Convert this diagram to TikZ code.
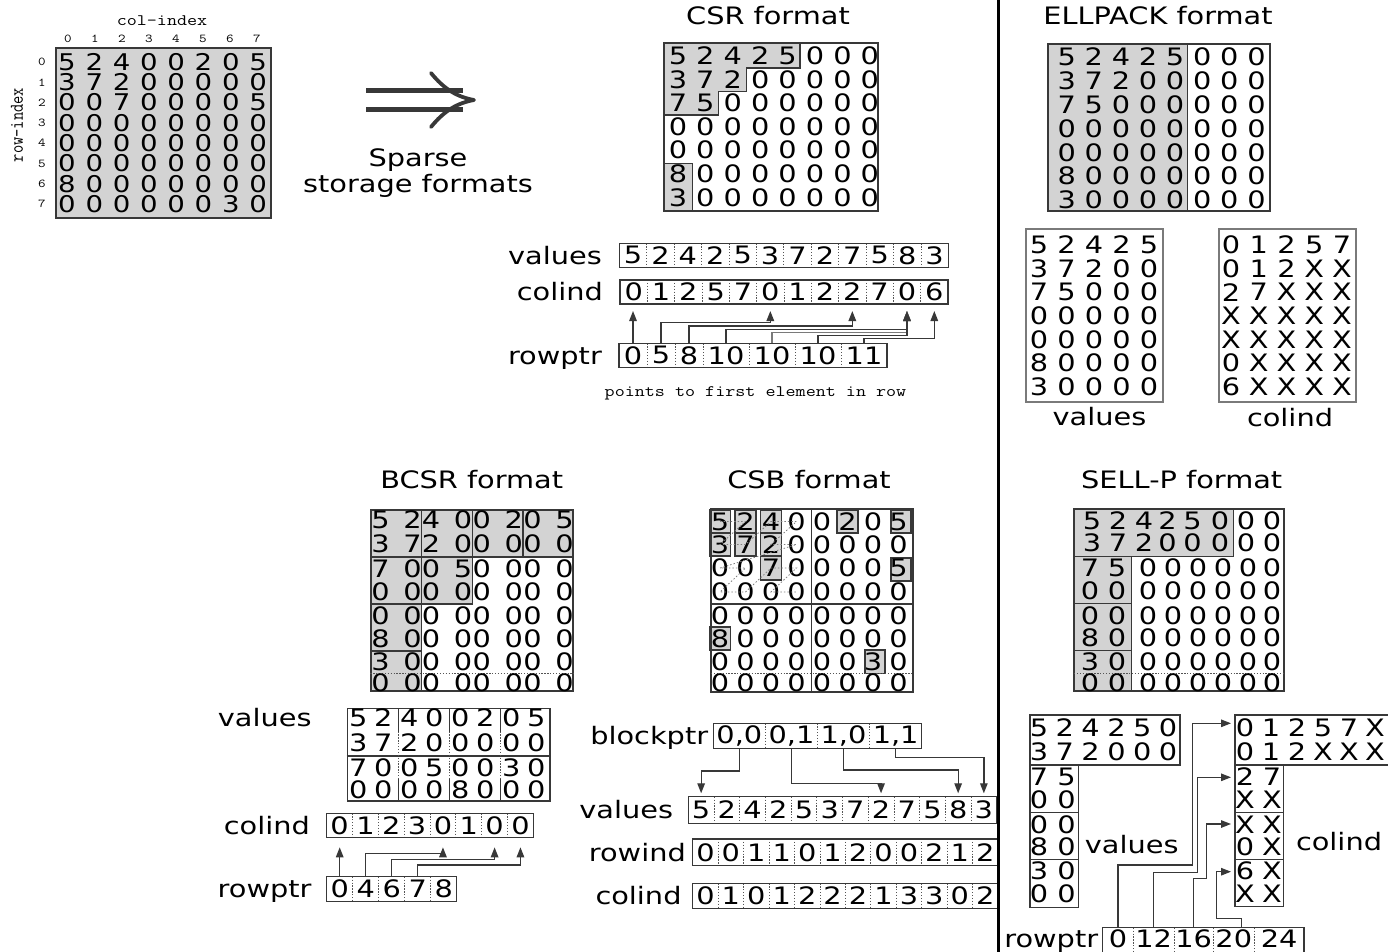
\documentclass[tikz,border=0pt]{standalone}
\usepackage{fontspec}
\usepackage{graphicx}
\usetikzlibrary{arrows.meta}
\newfontfamily\dv[FakeStretch=1.2]{DejaVu Sans}
\newcommand\dfont{\fontsize{24}{24}\dv}
\newcommand\sfont{\fontsize{23}{23}\dv}
\newcommand\mtt[2]{\scalebox{1.22}[1]{\ttfamily\fontsize{#1}{#1}\selectfont #2}}
\definecolor{gfill}{HTML}{D3D3D3}
\definecolor{lnc}{HTML}{383838}
\definecolor{dotc}{HTML}{555555}
\definecolor{lgc}{HTML}{7A7A7A}
\tikzset{
  dig/.style={font=\dfont, inner sep=0pt, outer sep=0pt},
  sdig/.style={font=\sfont, inner sep=0pt, outer sep=0pt},
  cell/.style={font=\dfont, inner sep=0pt, outer sep=0pt},
  lab/.style={font=\dfont, inner sep=0pt, anchor=base east},
  ttl/.style={font=\dfont, inner sep=0pt, anchor=base},
  bx/.style={draw=lnc, line width=1.4pt, inner sep=0pt},
  gbx/.style={draw=lnc, line width=1.4pt, fill=gfill},
  sepl/.style={draw=dotc, line width=0.8pt, dash pattern=on 1.3pt off 1.6pt},
  arr/.style={draw=lnc, line width=1.3pt, -{Triangle[length=10pt,width=7.5pt]}},
  morton/.style={draw=gray, line width=0.8pt, dash pattern=on 1.5pt off 2pt},
}
\begin{document}
\begin{tikzpicture}[x=1pt,y=-1pt]
\useasboundingbox (0,0) rectangle (1388,952);
\fill[white] (0,0) rectangle (1388,952);

% ================= original matrix
\node[gbx, minimum width=215pt, minimum height=170pt, inner sep=0pt] (A) at (163.5,133) {};
\foreach \row [count=\j from 0] in {{5,2,4,0,0,2,0,5},{3,7,2,0,0,0,0,0},{0,0,7,0,0,0,0,5},{0,0,0,0,0,0,0,0},{0,0,0,0,0,0,0,0},{0,0,0,0,0,0,0,0},{8,0,0,0,0,0,0,0},{0,0,0,0,0,0,3,0}}
  \foreach \v [count=\i from 0] in \row
    \node[sdig] (a-\j-\i) at ({67+27.3*\i},{62+20.3*\j}) {\v};
\foreach \i in {0,...,7}
  \node[inner sep=0pt] (ci-\i) at ({68+27*\i},38.5) {\mtt{12}{\i}};
\foreach \j in {0,...,7}
  \node[inner sep=0pt] (ri-\j) at (42,{62+20.3*\j}) {\mtt{12}{\j}};
\node[inner sep=0pt] (colidx) at (162,21) {\mtt{16}{col-index}};
\node[rotate=90, inner sep=0pt] (rowidx) at (17,125) {\scalebox{1}[1.22]{\ttfamily\fontsize{16}{16}\selectfont row-index}};

% ================= double arrow
\draw[lnc, line width=4.2pt] (366,90.5) -- (463,90.5) (366,109.5) -- (463,109.5);
\draw[lnc, line width=3.8pt, line cap=round, line join=round] (431,73) .. controls (444,89) and (457,97) .. (474,100) .. controls (457,103) and (444,111) .. (431,127);
\node[ttl] (sp1) at (418,166.5) {Sparse};
\node[ttl] (sp2) at (418,193) {storage formats};

% ================= CSR
\node[ttl] (csrT) at (768,25) {CSR format};
\path[gbx] (664,43) -- (800,43) -- (800,68) -- (746.7,68) -- (746.7,91.7) -- (718.3,91.7) -- (718.3,115) -- (664,115) -- cycle;
\path[gbx] (664,163.3) rectangle (692.7,211);
\node[bx, minimum width=214pt, minimum height=168pt] (B) at (771,127) {};
\foreach \row [count=\j from 0] in {{5,2,4,2,5,0,0,0},{3,7,2,0,0,0,0,0},{7,5,0,0,0,0,0,0},{0,0,0,0,0,0,0,0},{0,0,0,0,0,0,0,0},{8,0,0,0,0,0,0,0},{3,0,0,0,0,0,0,0}}
  \foreach \v [count=\i from 0] in \row
    \node[dig] (b-\j-\i) at ({678+27.4*\i},{55.7+23.6*\j}) {\v};

% CSR arrays
\foreach \v [count=\i from 0] in {5,2,4,2,5,3,7,2,7,5,8,3}
  \node[cell, minimum width=27.42pt, minimum height=24pt] (cv-\i) at ({619.3+27.42*(\i+0.5)},255.3) {\v};
\foreach \i in {0,...,10} \draw[sepl] (cv-\i.north east) -- (cv-\i.south east);
\draw[bx] (cv-0.north west) rectangle (cv-11.south east);
\foreach \v [count=\i from 0] in {0,1,2,5,7,0,1,2,2,7,0,6}
  \node[cell, minimum width=27.33pt, minimum height=24pt] (cc-\i) at ({620+27.33*(\i+0.5)},292) {\v};
\foreach \i in {0,...,10} \draw[sepl] (cc-\i.north east) -- (cc-\i.south east);
\draw[bx] (cc-0.north west) rectangle (cc-11.south east);
\foreach \v/\a/\b [count=\i from 0] in {0/619/647,5/647/675,8/675/703,10/703/749,10/749/795,10/795/841,11/841/887}
{ \pgfmathsetmacro\cw{\b-\a} \pgfmathsetmacro\cx{(\a+\b)/2}
  \node[cell, minimum width=\cw, minimum height=24pt] (cr-\i) at (\cx,355.3) {\v}; }
\foreach \i in {0,...,5} \draw[sepl] (cr-\i.north east) -- (cr-\i.south east);
\draw[bx] (cr-0.north west) rectangle (cr-6.south east);
\node[lab] (lv1) at (602,264) {values};
\node[lab] (lc1) at (603,300.8) {colind};
\node[lab] (lr1) at (602,364) {rowptr};
\coordinate (h1) at (0,322.5);
\coordinate (h2) at (0,326);
\coordinate (h3) at (0,329.5);
\coordinate (h4) at (0,332.5);
\coordinate (h5) at (0,335.5);
\coordinate (h6) at (0,338.5);
\draw[arr, shorten >=7pt] (cr-0.north) -- (cr-0.north |- cc-0.south);
\draw[arr, shorten >=7pt] (cr-1.north) -- (cr-1.north |- h1) -| (cc-5.south);
\draw[arr, shorten >=7pt] (cr-2.north) -- (cr-2.north |- h2) -| (cc-8.south);
\draw[arr, shorten >=7pt] (cr-3.north) -- (cr-3.north |- h3) -| (cc-10.south);
\draw[arr, draw=lgc, shorten >=7pt] (cr-4.north) -- (cr-4.north |- h4) -| (cc-10.south);
\draw[arr, shorten >=7pt] (cr-5.north) -- (cr-5.north |- h5) -| (cc-10.south);
\draw[arr, shorten >=7pt] (cr-6.north) -- (cr-6.north |- h6) -| (cc-11.south);
\node[inner sep=0pt] (pts) at (755.5,393) {\mtt{16}{points to first element in row}};

% ================= ELLPACK
\node[ttl] (ellT) at (1158,24.5) {ELLPACK format};
\fill[gfill] (1048,44) rectangle (1187.3,211);
\node[bx, minimum width=222pt, minimum height=167pt] (E) at (1159,127.5) {};
\draw[lnc, line width=1.4pt] (E.north west -| 1187.3,0) -- (E.south west -| 1187.3,0);
\foreach \row [count=\j from 0] in {{5,2,4,2,5,0,0,0},{3,7,2,0,0,0,0,0},{7,5,0,0,0,0,0,0},{0,0,0,0,0,0,0,0},{0,0,0,0,0,0,0,0},{8,0,0,0,0,0,0,0},{3,0,0,0,0,0,0,0}}
  \foreach \v [count=\i from 0] in \row
    \node[dig] (e-\j-\i) at ({1066.7+27.1*\i},{56.7+23.9*\j}) {\v};
\node[draw=lgc, line width=1.3pt, inner sep=0pt, minimum width=137pt, minimum height=173pt] (EV) at (1094.5,315.5) {};
\foreach \row [count=\j from 0] in {{5,2,4,2,5},{3,7,2,0,0},{7,5,0,0,0},{0,0,0,0,0},{0,0,0,0,0},{8,0,0,0,0},{3,0,0,0,0}}
  \foreach \v [count=\i from 0] in \row
    \node[dig] (ev-\j-\i) at ({1039+27.5*\i},{245+23.6*\j}) {\v};
\node[draw=lgc, line width=1.3pt, inner sep=0pt, minimum width=137pt, minimum height=173pt] (EC) at (1287.5,315.5) {};
\foreach \row [count=\j from 0] in {{0,1,2,5,7},{0,1,2,X,X},{2,7,X,X,X},{X,X,X,X,X},{X,X,X,X,X},{0,X,X,X,X},{6,X,X,X,X}}
  \foreach \v [count=\i from 0] in \row
    \node[dig] (ec-\j-\i) at ({1231+27.75*\i},{245+23.6*\j}) {\v};
\node[ttl] (elv) at (1099.5,425.5) {values};
\node[ttl] (elc) at (1290,426) {colind};

% ================= BCSR
\node[ttl] (bT) at (471.7,488.3) {BCSR format};
\foreach \xa/\xb/\ya/\yb in {371/421.65/510/557, 421.65/472.3/510/557, 472.3/522.95/510/557, 522.95/573/510/557, 371/421.65/557/604, 421.65/472.3/557/604, 371/421.65/604/651, 371/421.65/651/691}
  \path[gbx] (\xa,\ya) rectangle (\xb,\yb);
\node[bx, minimum width=202pt, minimum height=181pt] (BM) at (472,600.5) {};
\draw[sepl] (BM.west |- 0,673.5) -- (BM.east |- 0,673.5);
\foreach \row [count=\j from 0] in {{5,2,4,0,0,2,0,5},{3,7,2,0,0,0,0,0},{7,0,0,5,0,0,0,0},{0,0,0,0,0,0,0,0},{0,0,0,0,0,0,0,0},{8,0,0,0,0,0,0,0},{3,0,0,0,0,0,0,0},{0,0,0,0,0,0,0,0}}
  \foreach \v [count=\i from 0] in \row
  { \pgfmathsetmacro\yy{{520,543.5,568.5,592,615.5,639,662,683}[\j]}
    \node[dig] (bm-\j-\i) at ({380.5+50.65*floor(\i/2)+32*mod(\i,2)},\yy) {\v}; }

% ================= CSB
\node[ttl] (cT) at (809,488.3) {CSB format};
\foreach \xa/\xb/\ya/\yb in {709.5/730.5/510/533, 735/756/510/533, 760.5/781.5/510/533, 837/858/510/533, 891/911/510/533, 709.5/730.5/533/556, 735/756/533/556, 760.5/781.5/533/556, 760.5/781.5/556/580, 891/911/558/581, 709.5/730.5/627/650, 865/885/650/673.3}
  \path[gbx] (\xa,\ya) rectangle (\xb,\yb);
\node[bx, minimum width=202pt, minimum height=183pt] (CM) at (812,600.5) {};
\draw[lnc, line width=1.4pt] (811.7,509) -- (811.7,692) (711,604) -- (913,604);
\draw[sepl] (711,673.3) -- (913,673.3);
\foreach \row [count=\j from 0] in {{5,2,4,0,0,2,0,5},{3,7,2,0,0,0,0,0},{0,0,7,0,0,0,0,5},{0,0,0,0,0,0,0,0},{0,0,0,0,0,0,0,0},{8,0,0,0,0,0,0,0},{0,0,0,0,0,0,3,0},{0,0,0,0,0,0,0,0}}
  \foreach \v [count=\i from 0] in \row
  { \pgfmathsetmacro\yy{{521.5,544.5,568,592,615.5,638.5,661.5,683}[\j]}
    \node[dig] (cm-\j-\i) at ({720+25.5*\i},\yy) {\v}; }
\draw[morton] (cm-0-0.center) -- (cm-0-1.center) -- (cm-1-0.center) -- (cm-1-1.center) -- (cm-0-2.center) -- (cm-0-3.center) -- (cm-1-2.center) -- (cm-1-3.center) -- (cm-2-0.center) -- (cm-2-1.center) -- (cm-3-0.center) -- (cm-3-1.center) -- (cm-2-2.center) -- (cm-2-3.center) -- (cm-3-2.center) -- (cm-3-3.center);

% ================= SELL-P
\node[ttl] (sT) at (1181.7,488.3) {SELL-P format};
\path[gbx] (1074,509) rectangle (1233.3,556.7);
\path[gbx] (1074,556.7) rectangle (1131.7,603.3);
\path[gbx] (1074,603.3) rectangle (1131.7,650.7);
\path[gbx] (1074,650.7) rectangle (1131.7,691);
\node[bx, minimum width=210pt, minimum height=182pt] (SM) at (1179,600) {};
\draw[sepl] (1074,673.3) -- (1284,673.3);
\foreach \row [count=\j from 0] in {{5,2,4,2,5,0,0,0},{3,7,2,0,0,0,0,0}}
  \foreach \v [count=\i from 0] in \row
  { \pgfmathsetmacro\yy{{520.5,543}[\j]}
    \pgfmathsetmacro\xx{{1092,1118,1144,1167.5,1192.5,1220,1246,1272}[\i]}
    \node[dig] (sm-\j-\i) at (\xx,\yy) {\v}; }
\foreach \row [count=\j from 2] in {{7,5,0,0,0,0,0,0},{0,0,0,0,0,0,0,0},{0,0,0,0,0,0,0,0},{8,0,0,0,0,0,0,0},{3,0,0,0,0,0,0,0},{0,0,0,0,0,0,0,0}}
  \foreach \v [count=\i from 0] in \row
  { \pgfmathsetmacro\yy{{0,0,568,591,615.5,637.5,661.5,682.5}[\j]}
    \pgfmathsetmacro\xx{{1090,1117,1148,1173,1198,1223,1248,1272}[\i]}
    \node[dig] (sm-\j-\i) at (\xx,\yy) {\v}; }

% ================= BCSR arrays
\node[lab] (blv) at (311.7,726.7) {values};
\node[bx, minimum width=202.7pt, minimum height=92.7pt] (BV) at (448.65,754.65) {};
\draw[lnc, line width=1.4pt] (BV.west |- 0,756) -- (BV.east |- 0,756);
\foreach \x in {398.3,449.3,500.3} {
  \draw[lnc, line width=1.4pt] (\x,708.3) -- (\x,731.5) (\x,778.5) -- (\x,801);
  \draw[sepl] (\x,731.5) -- (\x,778.5);
}
\foreach \row [count=\j from 0] in {{5,2,4,0,0,2,0,5},{3,7,2,0,0,0,0,0},{7,0,0,5,0,0,3,0},{0,0,0,0,8,0,0,0}}
  \foreach \v [count=\i from 0] in \row
  { \pgfmathsetmacro\yy{{718,743,768,790}[\j]}
    \node[dig] (bv-\j-\i) at ({358.3+51*floor(\i/2)+25*mod(\i,2)},\yy) {\v}; }
\foreach \v [count=\i from 0] in {0,1,2,3,0,1,0,0}
  \node[cell, minimum width=25.83pt, minimum height=24pt] (bc-\i) at ({326.7+25.83*(\i+0.5)},825.3) {\v};
\foreach \i in {0,...,6} \draw[sepl] (bc-\i.north east) -- (bc-\i.south east);
\draw[bx] (bc-0.north west) rectangle (bc-7.south east);
\foreach \v [count=\i from 0] in {0,4,6,7,8}
  \node[cell, minimum width=26pt, minimum height=25pt] (br-\i) at ({326.7+26*(\i+0.5)},889.2) {\v};
\foreach \i in {0,...,3} \draw[sepl] (br-\i.north east) -- (br-\i.south east);
\draw[bx] (br-0.north west) rectangle (br-4.south east);
\node[lab] (blc) at (310,834) {colind};
\node[lab] (blr) at (311.7,897.5) {rowptr};
\coordinate (g1) at (0,853.3);
\coordinate (g2) at (0,859.3);
\coordinate (g3) at (0,865);
\draw[arr, shorten >=10pt] (br-0.north) -- (br-0.north |- bc-0.south);
\draw[arr, shorten >=10pt] (br-1.north) -- (br-1.north |- g1) -| (bc-4.south);
\draw[arr, shorten >=10pt] (br-2.north) -- (br-2.north |- g2) -| (bc-6.south);
\draw[arr, shorten >=10pt] (br-3.north) -- (br-3.north |- g3) -| (bc-7.south);

% ================= CSB arrays
\foreach \v [count=\i from 0] in {{0,0},{0,1},{1,0},{1,1}}
  \node[cell, minimum width=52.1pt, minimum height=25pt] (cbp-\i) at ({713.3+52.1*(\i+0.5)},735.8) {\v};
\foreach \i in {0,...,2} \draw[sepl] (cbp-\i.north east) -- (cbp-\i.south east);
\draw[bx] (cbp-0.north west) rectangle (cbp-3.south east);
\foreach \v [count=\i from 0] in {5,2,4,2,5,3,7,2,7,5,8,3}
  \node[cell, minimum width=25.7pt, minimum height=26.6pt] (cbv-\i) at ({688.3+25.7*(\i+0.5)},810) {\v};
\foreach \i in {0,...,10} \draw[sepl] (cbv-\i.north east) -- (cbv-\i.south east);
\draw[bx] (cbv-0.north west) rectangle (cbv-11.south east);
\foreach \v [count=\i from 0] in {0,0,1,1,0,1,2,0,0,2,1,2}
  \node[cell, minimum width=25.44pt, minimum height=26.7pt] (cbr-\i) at ({692.7+25.44*(\i+0.5)},852.35) {\v};
\foreach \i in {0,...,10} \draw[sepl] (cbr-\i.north east) -- (cbr-\i.south east);
\draw[bx] (cbr-0.north west) rectangle (cbr-11.south east);
\foreach \v [count=\i from 0] in {0,1,0,1,2,2,2,1,3,3,0,2}
  \node[cell, minimum width=25.44pt, minimum height=25pt] (cbc-\i) at ({692.7+25.44*(\i+0.5)},895.8) {\v};
\foreach \i in {0,...,10} \draw[sepl] (cbc-\i.north east) -- (cbc-\i.south east);
\draw[bx] (cbc-0.north west) rectangle (cbc-11.south east);
\node[lab] (cbl1) at (708.3,744.5) {blockptr};
\node[lab] (cbl2) at (673.3,818.7) {values};
\node[lab] (cbl3) at (686,861) {rowind};
\node[lab] (cbl4) at (681.7,904.5) {colind};
\coordinate (q0) at (0,771);
\coordinate (q1) at (0,783.3);
\coordinate (q2) at (0,770);
\coordinate (q3) at (0,757.7);
\draw[arr, shorten >=3.4pt] (cbp-0.south) -- (cbp-0.south |- q0) -| (cbv-0.north);
\draw[arr, shorten >=3.4pt] (cbp-1.south) -- (cbp-1.south |- q1) -| (cbv-7.north);
\draw[arr, shorten >=3.4pt] (cbp-2.south) -- (cbp-2.south |- q2) -| (cbv-10.north);
\draw[arr, shorten >=3.4pt] (cbp-3.south) -- (cbp-3.south |- q3) -| (cbv-11.north);

% ================= SELL-P arrays
\node[bx, minimum width=150pt, minimum height=50pt] (SV0) at (1105,740) {};
\node[bx, minimum width=48.3pt, minimum height=47.7pt] (SV1) at (1054.15,788.85) {};
\node[bx, minimum width=48.3pt, minimum height=46.6pt] (SV2) at (1054.15,836) {};
\node[bx, minimum width=48.3pt, minimum height=48pt] (SV3) at (1054.15,883.3) {};
\foreach \row [count=\j from 0] in {{5,2,4,2,5,0},{3,7,2,0,0,0}}
  \foreach \v [count=\i from 0] in \row
  { \pgfmathsetmacro\yy{{728,752}[\j]}
    \node[dig] (svt-\j-\i) at ({1039+25.8*\i},\yy) {\v}; }
\foreach \row [count=\j from 0] in {{7,5},{0,0},{0,0},{8,0},{3,0},{0,0}}
  \foreach \v [count=\i from 0] in \row
  { \pgfmathsetmacro\yy{{777,800,824.5,847,871,894}[\j]}
    \node[dig] (svs-\j-\i) at ({1039+27.5*\i},\yy) {\v}; }
\node[bx, minimum width=160pt, minimum height=50pt] (SC0) at (1315,740) {};
\node[bx, minimum width=48.3pt, minimum height=47.7pt] (SC1) at (1259.15,788.85) {};
\node[bx, minimum width=48.3pt, minimum height=46.6pt] (SC2) at (1259.15,836) {};
\node[bx, minimum width=48.3pt, minimum height=47.4pt] (SC3) at (1259.15,883) {};
\foreach \row [count=\j from 0] in {{0,1,2,5,7,X},{0,1,2,X,X,X}}
  \foreach \v [count=\i from 0] in \row
  { \pgfmathsetmacro\yy{{728,752}[\j]}
    \node[dig] (sct-\j-\i) at ({1245+26*\i},\yy) {\v}; }
\foreach \row [count=\j from 0] in {{2,7},{X,X},{X,X},{0,X},{6,X},{X,X}}
  \foreach \v [count=\i from 0] in \row
  { \pgfmathsetmacro\yy{{777,800,824.5,847,871,894}[\j]}
    \node[dig] (scs-\j-\i) at ({1245+27*\i},\yy) {\v}; }
\node[ttl] (slv) at (1131.7,853.3) {values};
\node[ttl] (slc) at (1339,850) {colind};
\foreach \v/\a/\b [count=\i from 0] in {0/1102.7/1133.3,12/1133.3/1174,16/1174/1213.3,20/1213.3/1254.3,24/1254.3/1304}
{ \pgfmathsetmacro\cw{\b-\a} \pgfmathsetmacro\cx{(\a+\b)/2}
  \node[cell, minimum width=\cw, minimum height=21.2pt] (spr-\i) at (\cx,938.3) {\v}; }
\foreach \i in {0,...,3} \draw[sepl] (spr-\i.north east) -- ([yshift=-8pt]spr-\i.south east);
\draw[bx] (spr-0.north west) rectangle ([yshift=-8pt]spr-4.south east);
\node[lab] (slr) at (1098.3,947) {rowptr};
\coordinate (k0) at (1192.7,865);
\coordinate (k1) at (1197.3,872.7);
\coordinate (k2) at (1206.7,878.3);
\coordinate (k3) at (1216.7,918.3);
\coordinate (t0) at (SC0.west |- 0,723.3);
\coordinate (t1) at (SC1.west |- 0,777.3);
\coordinate (t2) at (SC2.west |- 0,824);
\coordinate (t3) at (SC3.west |- 0,871.7);
\draw[arr, shorten >=3.3pt] (spr-0.north) |- (k0) |- (t0);
\draw[arr, shorten >=3.3pt] (spr-1.north) |- (k1) |- (t1);
\draw[arr, shorten >=3.3pt] (spr-2.north) |- (k2) |- (t2);
\draw[arr, shorten >=3.3pt] ([xshift=8pt]spr-3.north) |- (k3) |- (t3);

% ================= divider
\draw[black, line width=3.6pt] (998.5,0) -- (998.5,952);
\end{tikzpicture}
\end{document}
